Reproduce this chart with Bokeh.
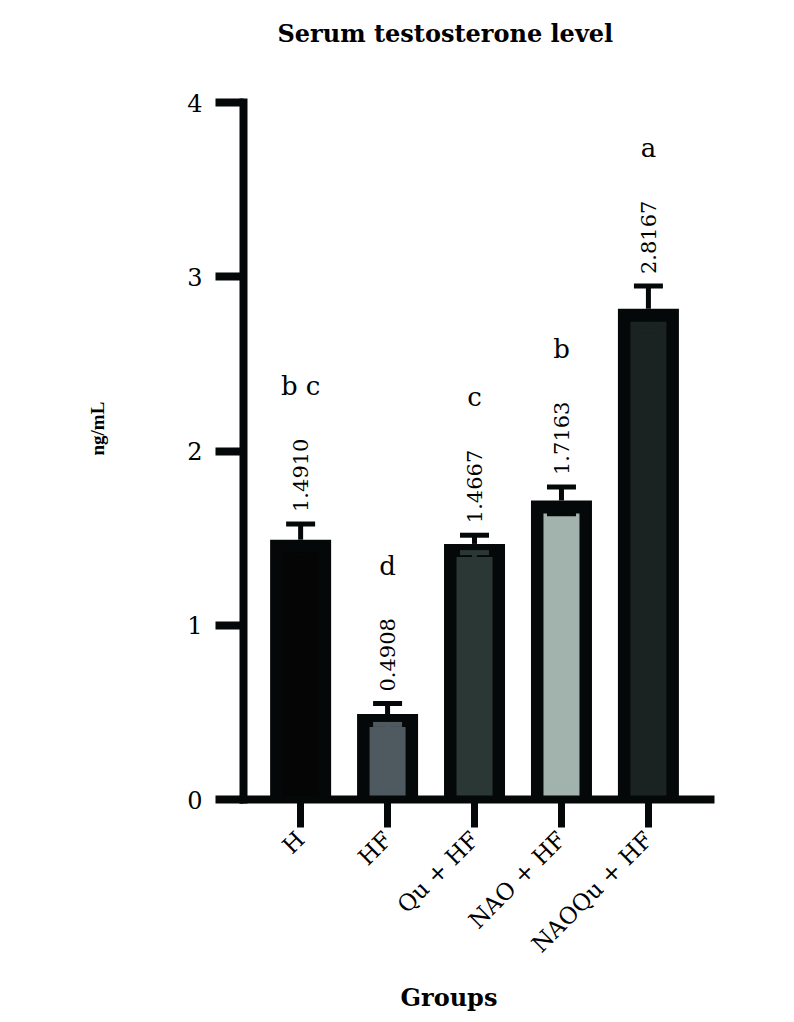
import math
from bokeh.plotting import figure
from bokeh.models import FixedTicker, Range1d, Title
from bokeh.embed import file_html
from bokeh.resources import INLINE
from bokeh.core.properties import value

# ---- data ----
groups = ["H", "HF", "Qu + HF", "NAO + HF", "NAOQu + HF"]
means = [1.4910, 0.4908, 1.4667, 1.7163, 2.8167]
sems = [0.09, 0.06, 0.05, 0.077, 0.13]
letters = ["b c", "d", "c", "b", "a"]
fills = ["#050505", "#4e5a60", "#2b3735", "#a2b2ad", "#1b2322"]
y_ticks = [0, 1, 2, 3, 4]

# ---- layout ----
W, H = 794, 1022
B_LEFT, B_RIGHT, B_TOP, B_BOTTOM = 243, 84, 102, 223
FW = W - B_LEFT - B_RIGHT
FH = H - B_TOP - B_BOTTOM
X0, X1 = -0.657, len(groups) - 1 + 0.714
Y0, Y1 = 0, 4
PXX = FW / (X1 - X0)
PXY = FH / (Y1 - Y0)

SERIF = "DejaVu Serif"

p = figure(width=W, height=H, x_range=Range1d(X0, X1), y_range=Range1d(Y0, Y1),
           output_backend="svg", toolbar_location=None,
           min_border_left=B_LEFT, min_border_right=B_RIGHT,
           min_border_top=B_TOP, min_border_bottom=B_BOTTOM)
p.xgrid.visible = False
p.ygrid.visible = False
p.outline_line_color = None
p.background_fill_color = "white"
p.border_fill_color = "white"

xs = list(range(len(groups)))
BORDER_PX = 12.5
outer_w = 61 / PXX
inner_w = (61 - 2 * BORDER_PX) / PXX
border_y = 13 / PXY
cap_half = 14.5 / PXX

# bars: black outline body + coloured inner fill
p.vbar(x=xs, top=means, bottom=0, width=outer_w, fill_color="#050808", line_color=None)
inner_top = [m - border_y for m in means]
p.vbar(x=xs, top=inner_top, bottom=0, width=inner_w, fill_color=fills, line_color=None)

# error bars (upper)
ups = [m + s for m, s in zip(means, sems)]
p.segment(x0=xs, y0=means, x1=xs, y1=ups, line_width=5, line_color="#050808")
p.segment(x0=[x - cap_half for x in xs], y0=ups, x1=[x + cap_half for x in xs], y1=ups,
          line_width=5, line_color="#050808")


# lower error part, visible only on light fills
def lum(h):
    h = h.lstrip("#")
    r, g, b = int(h[0:2], 16), int(h[2:4], 16), int(h[4:6], 16)
    return (0.299 * r + 0.587 * g + 0.114 * b) / 255


low_cols = ["#050808" if lum(c) > 0.5 else c for c in fills]
lows = [m - s for m, s in zip(means, sems)]
p.segment(x0=xs, y0=lows, x1=xs, y1=inner_top, line_width=5, line_color=low_cols)
p.segment(x0=[x - cap_half for x in xs], y0=lows, x1=[x + cap_half for x in xs], y1=lows,
          line_width=5, line_color=low_cols)

# value labels
p.text(x=xs, y=ups, text=[f"{m:.4f}" for m in means], angle=math.pi / 2,
       text_align="left", text_baseline="middle", y_offset=-12,
       text_font=value(SERIF), text_font_size="21px", text_color="black")

# significance letters
p.text(x=xs, y=ups, text=letters, text_align="center", text_baseline="alphabetic",
       y_offset=-138, text_font=value(SERIF), text_font_size="26px", text_color="black")

# axes
ya = p.yaxis[0]
ya.ticker = FixedTicker(ticks=y_ticks)
ya.axis_line_width = 8
ya.axis_line_color = "#050808"
ya.axis_line_cap = "square"
ya.major_tick_line_width = 8
ya.major_tick_line_color = "#050808"
ya.major_tick_out = 28
ya.major_tick_in = 0
ya.minor_tick_out = 0
ya.minor_tick_in = 0
ya.major_label_standoff = 13
ya.major_label_text_font = SERIF
ya.major_label_text_font_size = "24px"
ya.major_label_text_color = "black"

xa = p.xaxis[0]
xa.ticker = FixedTicker(ticks=xs)
xa.major_label_overrides = {i: g for i, g in zip(xs, groups)}
xa.major_label_orientation = math.pi / 4
xa.axis_line_width = 8
xa.axis_line_color = "#050808"
xa.axis_line_cap = "square"
xa.major_tick_line_width = 7
xa.major_tick_line_color = "#050808"
xa.major_tick_out = 28
xa.major_tick_in = 0
xa.minor_tick_out = 0
xa.minor_tick_in = 0
xa.major_label_standoff = 8
xa.major_label_text_font = SERIF
xa.major_label_text_font_size = "23px"
xa.major_label_text_color = "black"

# titles (a thin spacer keeps the main title away from the frame)
p.add_layout(Title(text=" ", text_font_size="1px", standoff=52), "above")
p.add_layout(Title(text="Serum testosterone level", align="left", offset=34, standoff=0,
                   text_font=SERIF, text_font_style="bold", text_font_size="24px",
                   text_color="black"), "above")
p.add_layout(Title(text="Groups", align="left", offset=157, standoff=22,
                   text_font=SERIF, text_font_style="bold", text_font_size="24px",
                   text_color="black"), "below")
p.add_layout(Title(text="ng/mL", align="left", offset=344, standoff=153,
                   text_font="Liberation Serif", text_font_style="bold", text_font_size="19px",
                   text_color="black"), "left")

open("out.html", "w").write(file_html(p, INLINE))
